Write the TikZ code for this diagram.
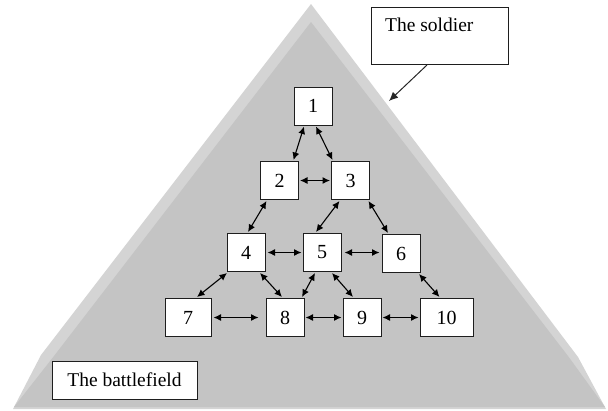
\documentclass[tikz,border=0pt]{standalone}
\usepackage{fontspec}
\setmainfont{Liberation Serif}
\usetikzlibrary{arrows.meta}
\definecolor{bandgray}{RGB}{212,212,212}
\definecolor{maingray}{RGB}{196,196,196}
\definecolor{boxline}{RGB}{30,30,30}
\begin{document}
\begin{tikzpicture}[x=1pt,y=-1pt,
  numbox/.style={draw=boxline,fill=white,line width=1pt,minimum width=38pt,minimum height=38pt,inner sep=0pt,font=\fontsize{20}{22}\selectfont},
  labbox/.style={draw=boxline,fill=white,line width=1pt,inner sep=0pt,font=\fontsize{19.5}{22}\selectfont},
  link/.style={draw=black,line width=1.1pt,{Latex[length=7.5pt,width=7pt]}-{Latex[length=7.5pt,width=7pt]}},
  pointer/.style={draw=black!85,line width=1pt,-{Latex[length=9pt,width=8pt]}}]
\useasboundingbox (0,0) rectangle (608,410);
% beveled pyramid
\fill[bandgray] (311,4) -- (41,355) -- (13,409) -- (606,409) -- (578,357) -- cycle;
\fill[maingray] (311,22) -- (54,356) -- (14,407) -- (605,407) -- (568,356) -- cycle;
% numbered boxes
\node[numbox] (n1) at (313,106) {1};
\node[numbox] (n2) at (279.5,180.5) {2};
\node[numbox] (n3) at (350.5,180.5) {3};
\node[numbox] (n4) at (246,252.5) {4};
\node[numbox] (n5) at (322,252.5) {5};
\node[numbox] (n6) at (401,253.5) {6};
\node[numbox,minimum width=46pt] (n7) at (188,317.5) {7};
\node[numbox] (n8) at (285,317.5) {8};
\node[numbox] (n9) at (362,317.5) {9};
\node[numbox,minimum width=53pt] (n10) at (446.5,317.5) {10};
% label boxes
\node[labbox,minimum width=145pt,minimum height=38pt] (battle) at (124.5,380) {The battlefield};
\node[labbox,minimum width=137pt,minimum height=57pt,anchor=north west] (soldier) at (371,7) {};
\node[anchor=base west,inner sep=0pt,font=\fontsize{19.5}{22}\selectfont] (soldiertext) at ([xshift=14pt,yshift=-24pt]soldier.north west) {The soldier};
\coordinate (tip) at (389,101);
\draw[pointer] ([xshift=-13pt]soldier.south) -- (tip);
% connectors
\draw[link] ([xshift=-9pt,yshift=-1pt]n1.south) -- ([xshift=14pt,yshift=1pt]n2.north);
\draw[link] ([xshift=3pt,yshift=-1pt]n1.south) -- ([xshift=-18pt,yshift=1pt]n3.north);
\draw[link] ([xshift=1pt]n2.east) -- ([xshift=-1pt]n3.west);
\draw[link] ([xshift=-13pt,yshift=-1pt]n2.south) -- ([xshift=2pt,yshift=1pt]n4.north);
\draw[link] ([xshift=-11pt,yshift=-1pt]n3.south) -- ([xshift=-6pt,yshift=1pt]n5.north);
\draw[link] ([xshift=18pt,yshift=-1pt]n3.south) -- ([xshift=-13pt,yshift=1pt]n6.north);
\draw[link] ([xshift=2pt]n4.east) -- ([xshift=-1pt]n5.west);
\draw[link] ([xshift=3pt]n5.east) -- ([xshift=-2pt,yshift=1pt]n6.west);
\draw[link] ([xshift=-19pt,yshift=-1pt]n4.south) -- ([xshift=9pt,yshift=1pt]n7.north);
\draw[link] ([xshift=14pt,yshift=-1pt]n4.south) -- ([xshift=-3pt,yshift=1pt]n8.north);
\draw[link] ([xshift=-7pt,yshift=-1pt]n5.south) -- ([xshift=17pt,yshift=1pt]n8.north);
\draw[link] ([xshift=10pt,yshift=-1pt]n5.south) -- ([xshift=-9pt,yshift=1pt]n9.north);
\draw[link] ([xshift=18pt,yshift=-1pt]n6.south) -- ([xshift=-7pt,yshift=1pt]n10.north);
\draw[link] ([xshift=2pt]n7.east) -- ([xshift=-7pt]n8.west);
\draw[link] ([xshift=1pt]n8.east) -- ([xshift=-1pt]n9.west);
\draw[link] ([xshift=1pt]n9.east) -- ([xshift=-1pt]n10.west);
\end{tikzpicture}
\end{document}
